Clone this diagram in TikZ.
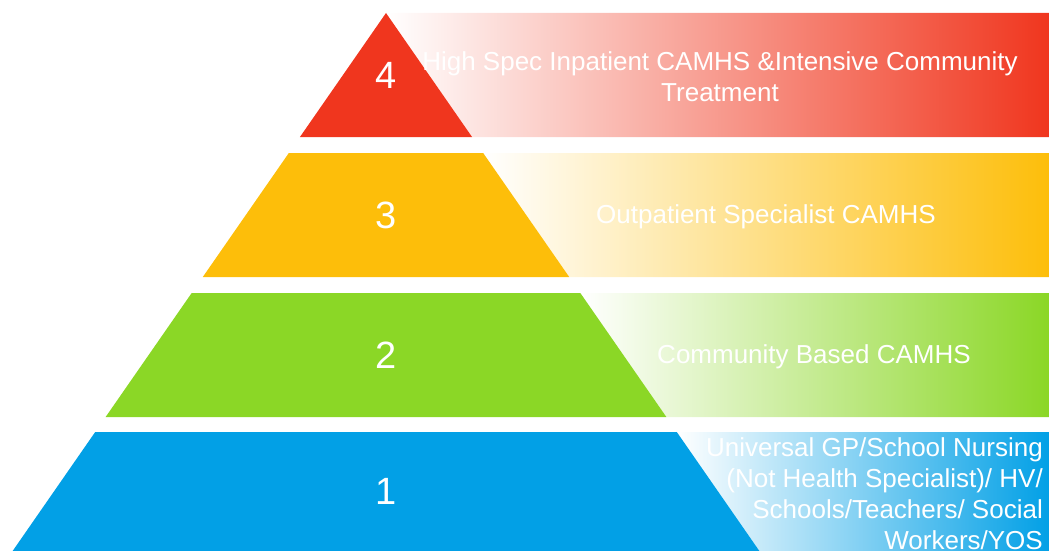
\documentclass[tikz,border=0pt]{standalone}
\usepackage{fontspec}
\setmainfont{Liberation Sans}
\usetikzlibrary{positioning}
\definecolor{tierred}{HTML}{F0361E}
\definecolor{tieryellow}{HTML}{FDBE0A}
\definecolor{tiergreen}{HTML}{8BD726}
\definecolor{tierblue}{HTML}{02A0E6}
\tikzset{
	tiernum/.style={text=white,font=\fontsize{38}{44}\selectfont},
	tierlabel/.style={text=white,font=\fontsize{26}{31}\selectfont,align=center,inner sep=0pt},
}

\begin{document}
\begin{tikzpicture}[x=1pt,y=-1pt]
		\useasboundingbox (0,0) rectangle (1049,551);
		% tiers: number / top / bottom / colour
		\foreach \n/\ty/\by/\col in {4/13/137/tierred,3/153/277/tieryellow,2/293/417/tiergreen,1/432/551/tierblue}
		{
			\pgfmathsetmacro\tl{386-0.694*(\ty-13)}
			\pgfmathsetmacro\tr{386+0.694*(\ty-13)}
			\pgfmathsetmacro\bl{386-0.694*(\by-13)}
			\pgfmathsetmacro\br{386+0.694*(\by-13)}
			\shade[left color=white,middle color=\col!88!white,right color=\col]
			(\tr,\ty) -- (1049,\ty) -- (1049,\by) -- (\br,\by) -- cycle;
			\fill[\col] (\tl,\ty) -- (\tr,\ty) -- (\br,\by) -- (\bl,\by) -- cycle;
			\node[tiernum] (num\n) at (386,{(\ty+\by)/2}) {\n};
		}
		\node[tierlabel] (label4) at (720,77) {High Spec Inpatient CAMHS \&Intensive Community\\Treatment};
		\node[tierlabel] (label3) at (766,217) {Outpatient Specialist CAMHS};
		\node[tierlabel] (label2) at (814,357) {Community Based CAMHS};
		\node[tierlabel,align=right,anchor=east] (label1) at (1043,494)
		{Universal GP/School Nursing\\(Not Health Specialist)/ HV/\\Schools/Teachers/ Social\\Workers/YOS};
	\end{tikzpicture}
\end{document}
